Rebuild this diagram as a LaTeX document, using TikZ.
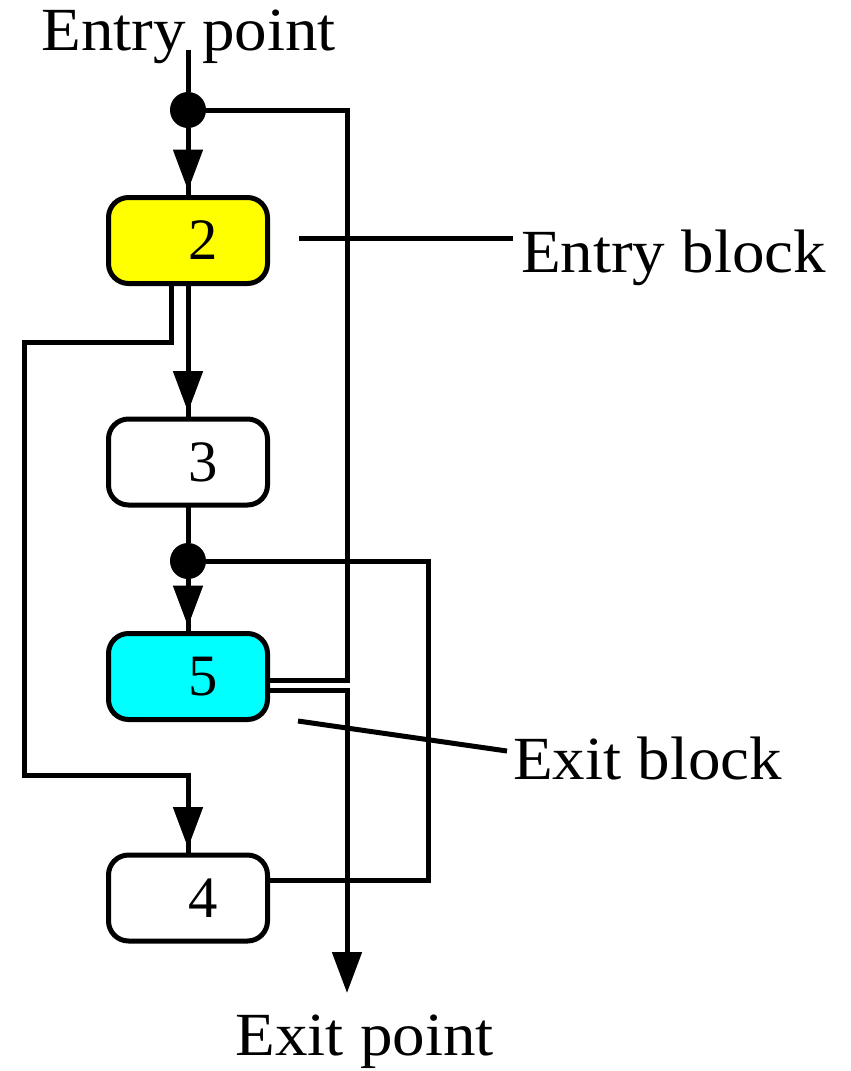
\documentclass[tikz,border=0pt]{standalone}
\usepackage{fontspec}
\usepackage{graphicx}
\setmainfont{Liberation Serif}
\usetikzlibrary{arrows.meta,decorations.markings,calc}
\definecolor{boxyellow}{RGB}{255,255,0}
\definecolor{boxcyan}{RGB}{0,255,255}
\tikzset{
  tipA/.tip={Triangle[width=21.75pt,length=30.75pt]},
  lw/.style={line width=3.75pt},
  amark/.style={postaction={decorate},
    decoration={markings, mark=at position -5.25pt with {\arrow{tipA}}}},
  blk/.style={draw, line width=3.75pt, rounded corners=15pt,
    minimum width=119.25pt, minimum height=64.5pt,
    inner sep=0pt, outer sep=0pt, font=\fontsize{44}{48}\selectfont},
  dotn/.style={circle, fill=black, minimum size=27pt, inner sep=0pt, outer sep=0pt},
  lbl/.style={font=\fontsize{46}{50}\selectfont, inner sep=0pt, outer sep=0pt}
}
\begin{document}
\begin{tikzpicture}[x=0.75pt,y=-0.75pt]
\useasboundingbox (0,0) rectangle (850,1071);
% nodes
\node[lbl, anchor=base] (entry) at (188.5,50) {\scalebox{1.06}[1]{Entry point}};
\node[dotn] (d1) at (188,110) {};
\node[blk, fill=boxyellow] (b2) at (188,240.5) {\hspace*{22.5pt}\raisebox{-8pt}{2}};
\node[blk, fill=white] (b3) at (188,462) {\hspace*{22.5pt}\raisebox{-3.5pt}{3}};
\node[dotn] (d2) at (188,561) {};
\node[blk, fill=boxcyan] (b5) at (188,676.5) {\hspace*{22.5pt}\raisebox{-6.5pt}{5}};
\node[blk, fill=white] (b4) at (188,898) {\hspace*{22.5pt}\raisebox{-3.5pt}{4}};
\node[lbl, anchor=base] (exitp) at (364.5,1055) {\scalebox{1.06}[1]{Exit point}};
\node[lbl, anchor=base west] (eb) at (521,272) {\scalebox{1.06}[1]{Entry block}};
\node[lbl, anchor=base west] (xb) at (513,779) {\scalebox{1.06}[1]{Exit block}};
% helper coordinates
\coordinate (r1) at (347,110);
\coordinate (r2) at (428,561);
\coordinate (l1) at (24,342);
\coordinate (l2) at (24,775);
\coordinate (xp) at (347,993);
\coordinate (ebl) at (299,238);
\coordinate (xbl) at (298,721);
% main flow
\draw[lw] (entry.base -| d1) -- (d1);
\draw[lw, amark] (d1) -- (b2.north);
\draw[lw, amark] (b2.south) -- (b3.north);
\draw[lw] (b3.south) -- (d2);
\draw[lw, amark] (d2) -- (b5.north);
% left branch 2 -> 4
\draw[lw, amark] ($(b2.south)+(-17,0)$) |- (l1) -- (l2) -| (b4.north);
% 5 -> entry junction
\draw[lw] ($(b5.east)+(0,3.5)$) -| (r1) -- (d1);
% 5 -> exit point
\draw[lw, -{tipA}] ($(b5.east)+(0,14)$) -| (xp);
% 4 -> junction before 5
\draw[lw] ($(b4.east)+(0,-17.5)$) -| (r2) -- (d2);
% label pointers
\draw[lw] (ebl) -- ($(ebl -| eb.west)+(-8,0)$);
\draw[lw] (xbl) -- ($(xb.west)+(-6,-7)$);
\end{tikzpicture}
\end{document}
